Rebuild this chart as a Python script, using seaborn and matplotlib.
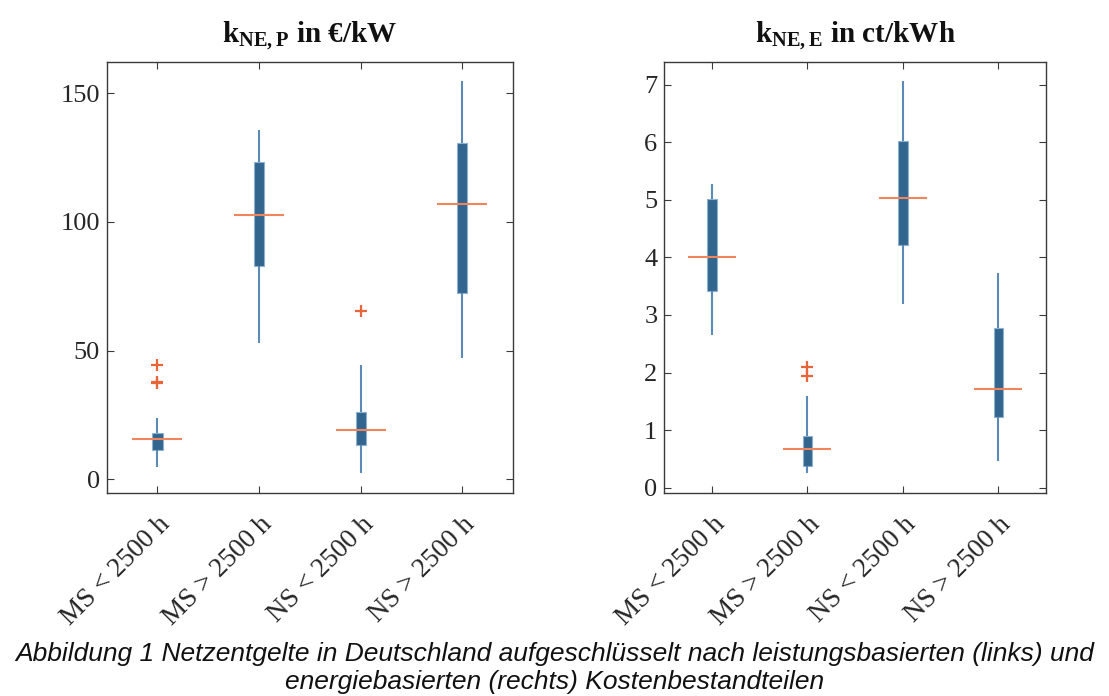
import numpy as np
import pandas as pd
import matplotlib
matplotlib.use("Agg")
import matplotlib.pyplot as plt
import seaborn as sns

sns.set_style("ticks")
plt.rcParams["font.family"] = ["Liberation Serif", "DejaVu Serif"]
plt.rcParams["mathtext.fontset"] = "custom"
plt.rcParams["mathtext.rm"] = "Liberation Serif"
plt.rcParams["mathtext.bf"] = "Liberation Serif:bold"

categories = ["MS < 2500 h", "MS > 2500 h", "NS < 2500 h", "NS > 2500 h"]

# k_NE,P in EUR/kW  (five-number summary)
p_low = [4.7, 53.1, 2.3, 47.3]
p_q1 = [11.4, 83.0, 13.2, 72.5]
p_med = [15.8, 102.7, 19.3, 107.1]
p_q3 = [17.9, 123.3, 26.2, 130.7]
p_high = [24.0, 135.8, 44.6, 154.8]
p_out_cat = ["MS < 2500 h", "MS < 2500 h", "MS < 2500 h", "NS < 2500 h"]
p_out_val = [37.4, 38.0, 44.3, 65.3]

# k_NE,E in ct/kWh
e_low = [2.65, 0.25, 3.19, 0.47]
e_q1 = [3.42, 0.38, 4.21, 1.23]
e_med = [4.01, 0.67, 5.03, 1.71]
e_q3 = [5.02, 0.90, 6.03, 2.77]
e_high = [5.28, 1.59, 7.07, 3.73]
e_out_cat = ["MS > 2500 h", "MS > 2500 h"]
e_out_val = [1.94, 2.10]

BOX = "#33668f"
WHISK = "#5a8ab5"
MED = "#f0855c"
OUT = "#e8653a"
FRAME = "#3a3a3a"


def summary_frame(low, q1, med, q3, high):
    rows = []
    for i, c in enumerate(categories):
        for v in (low[i], q1[i], med[i], q3[i], high[i]):
            rows.append((c, v))
    return pd.DataFrame(rows, columns=["cat", "val"])


def panel(ax, low, q1, med, q3, high, out_cat, out_val, ylim, yticks, title, msize):
    df = summary_frame(low, q1, med, q3, high)
    sns.boxplot(data=df, x="cat", y="val", order=categories, ax=ax,
                whis=(0, 100), showfliers=False, width=0.1, color=BOX,
                linewidth=1.6, linecolor=WHISK,
                boxprops=dict(facecolor=BOX, edgecolor="#8db0d0", linewidth=0.8),
                whiskerprops=dict(color=WHISK, linewidth=1.5),
                capprops=dict(linewidth=0),
                medianprops=dict(visible=False))
    mdf = pd.DataFrame({"cat": categories, "val": med})
    sns.scatterplot(data=mdf, x="cat", y="val", ax=ax, marker="_", s=msize,
                    color=MED, linewidth=1.5, zorder=5, legend=False)
    odf = pd.DataFrame({"cat": out_cat, "val": out_val})
    sns.scatterplot(data=odf, x="cat", y="val", ax=ax, marker="+", s=75,
                    color=OUT, linewidth=1.6, zorder=5, legend=False)
    ax.set_xlim(-0.5, 3.5)
    ax.set_ylim(*ylim)
    ax.set_yticks(yticks)
    ax.set_xlabel("")
    ax.set_ylabel("")
    ax.set_title(title, fontsize=21, fontweight="bold", pad=14, color="#111111")
    ax.tick_params(direction="in", length=5, width=0.8, color=FRAME,
                   top=True, right=True, labelsize=19, labelcolor="#262626", pad=5)
    ax.tick_params(axis="x", pad=14)
    ax.set_xticks(range(len(categories)))
    ax.set_xticklabels(categories, rotation=45, ha="right", rotation_mode="anchor",
                       fontsize=19.5)
    for s in ax.spines.values():
        s.set_visible(True)
        s.set_color(FRAME)
        s.set_linewidth(1.0)


fig = plt.figure(figsize=(11.09, 6.96), dpi=100)
ax1 = fig.add_axes([0.0962, 0.2921, 0.3664, 0.6193])
ax2 = fig.add_axes([0.599, 0.2921, 0.3442, 0.6193])

panel(ax1, p_low, p_q1, p_med, p_q3, p_high, p_out_cat, p_out_val,
      (-5.2, 162.3), [0, 50, 100, 150], r"$\mathbf{k_{NE,P}}$ in €/kW", 1340)
panel(ax2, e_low, e_q1, e_med, e_q3, e_high, e_out_cat, e_out_val,
      (-0.087, 7.40), list(range(8)), r"$\mathbf{k_{NE,E}}$ in ct/kWh", 1170)

cap = ("Abbildung 1 Netzentgelte in Deutschland aufgeschlüsselt nach leistungsbasierten (links) und\n"
       "energiebasierten (rechts) Kostenbestandteilen")
fig.text(0.5, 0.040, cap, ha="center", va="center", fontsize=19, style="italic",
         family=["Liberation Sans", "DejaVu Sans"], linespacing=1.2, color="#111111")

fig.savefig("out.png", dpi=100)
